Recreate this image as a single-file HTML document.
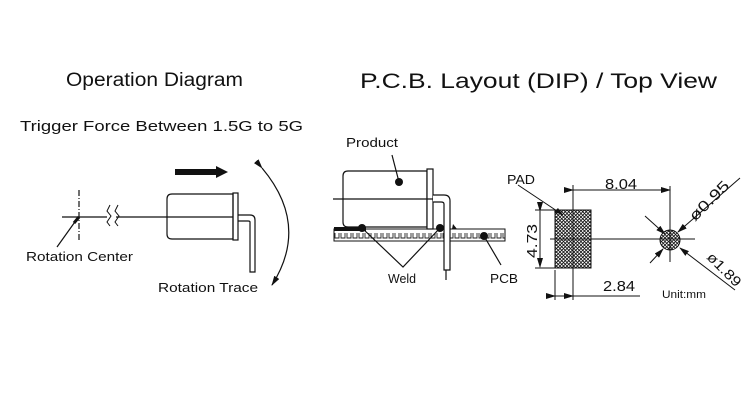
<!DOCTYPE html>
<html><head><meta charset="utf-8"><style>
html,body{margin:0;padding:0;background:#fff;width:750px;height:400px;overflow:hidden}
svg{display:block}
text{font-family:"Liberation Sans",sans-serif;fill:#111}
</style></head><body>
<svg width="750" height="400" viewBox="0 0 750 400" xmlns="http://www.w3.org/2000/svg">
<defs>
<pattern id="xh" width="3.5" height="3.5" patternUnits="userSpaceOnUse">
<rect width="3.5" height="3.5" fill="#fff"/><path d="M0,0L3.5,3.5M3.5,0L0,3.5" stroke="#111" stroke-width="0.8"/>
</pattern>
<pattern id="pcb" x="334" y="229" width="6" height="12" patternUnits="userSpaceOnUse">
<rect width="6" height="12" fill="#fff"/>
<path d="M1,4V9H5V4" fill="none" stroke="#222" stroke-width="0.9"/>
</pattern>
<marker id="ah" markerWidth="10" markerHeight="6" refX="9" refY="3" orient="auto" markerUnits="userSpaceOnUse">
<path d="M0,0L10,3L0,6z" fill="#111"/></marker>
</defs>

<!-- titles -->
<text x="66" y="86" font-size="19" textLength="177" lengthAdjust="spacingAndGlyphs">Operation Diagram</text>
<text x="360" y="88" font-size="21" textLength="357" lengthAdjust="spacingAndGlyphs">P.C.B. Layout (DIP) / Top View</text>
<text x="20" y="131" font-size="15" textLength="283" lengthAdjust="spacingAndGlyphs">Trigger Force Between 1.5G to 5G</text>

<g stroke="#111" fill="none" stroke-width="1.2">
<!-- left diagram -->
<path d="M79,190V240" stroke-dasharray="6,2,1,2"/>
<path d="M62,217H107M116,217H233"/>
<path d="M110,205l-3,6l4,5l-4,6l3,4M118,205l-3,6l4,5l-4,6l3,4" stroke-width="1"/>
<path d="M172,194H233V239H172Q167,239 167,234V199Q167,194 172,194Z"/>
<rect x="233" y="193" width="5" height="47"/>
<path d="M238,215H250Q255,215 255,220V272H250V222Q250,221 248,221H238"/>
<path d="M77,219L57,247"/>
<path d="M79,217l-5,6" stroke-width="3"/>
<path d="M262,168Q310,225 272,285" marker-start="url(#ah)" marker-end="url(#ah)"/>
</g>
<path d="M175,169H216V166L228,172L216,178V175H175Z" fill="#111"/>
<text x="26" y="261" font-size="13" textLength="107" lengthAdjust="spacingAndGlyphs">Rotation Center</text>
<text x="158" y="292" font-size="13" textLength="100" lengthAdjust="spacingAndGlyphs">Rotation Trace</text>

<!-- middle -->
<rect x="334" y="229" width="171" height="12" fill="url(#pcb)" stroke="#111" stroke-width="1"/>
<g stroke="#111" fill="none" stroke-width="1.2">
<path d="M348,171H427V227H348Q343,227 343,222V176Q343,171 348,171Z" fill="#fff"/>
<rect x="427" y="169" width="6" height="60" fill="#fff"/>
<path d="M333,199H443"/>
<path d="M433,195H444Q450,195 450,201V270H444V204Q444,202 441,202H433" fill="#fff"/>
<path d="M446,270V280"/>
<path d="M392,155L399,182M362,228L403,267L440,228M484,236L501,265"/>
</g>
<rect x="334" y="227" width="32" height="4" fill="#111"/>
<path d="M452,229l5,0l-4,-5z" fill="#111"/>
<g fill="#111"><circle cx="399" cy="182" r="4"/><circle cx="362" cy="228" r="4"/><circle cx="440" cy="228" r="4"/><circle cx="484" cy="236" r="4"/></g>
<text x="346" y="147" font-size="13" textLength="52" lengthAdjust="spacingAndGlyphs">Product</text>
<text x="388" y="283" font-size="13" textLength="28" lengthAdjust="spacingAndGlyphs">Weld</text>
<text x="490" y="283" font-size="13" textLength="28" lengthAdjust="spacingAndGlyphs">PCB</text>

<!-- right -->
<rect x="555" y="210" width="36" height="58" fill="url(#xh)" stroke="#111" stroke-width="1"/>
<circle cx="670" cy="240" r="10" fill="url(#xh)" stroke="#111" stroke-width="1"/>
<g stroke="#111" fill="none" stroke-width="1">
<path d="M573,185V300M670,186V262M550,239H695"/>
<path d="M573,190H670" marker-start="url(#ah)" marker-end="url(#ah)"/>
<path d="M535,210H555M535,268H555"/>
<path d="M540,211V267" marker-start="url(#ah)" marker-end="url(#ah)"/>
<path d="M555,270V300"/>
<path d="M555,296H573" marker-start="url(#ah)" marker-end="url(#ah)"/>
<path d="M573,296H640"/>
<path d="M645,216L665,234" marker-end="url(#ah)"/>
<path d="M740,178L678,232" marker-end="url(#ah)"/>
<path d="M650,263L663,249" marker-end="url(#ah)"/>
<path d="M735,290L680,248" marker-end="url(#ah)"/>
<path d="M518,185L563,215"/>
</g>
<path d="M563,215l-9,-3l4,-4z" fill="#111"/>
<text x="507" y="184" font-size="13" textLength="28" lengthAdjust="spacingAndGlyphs">PAD</text>
<text x="605" y="189" font-size="15" textLength="32" lengthAdjust="spacingAndGlyphs">8.04</text>
<text x="603" y="291" font-size="15" textLength="32" lengthAdjust="spacingAndGlyphs">2.84</text>
<text transform="translate(537,258) rotate(-90)" font-size="15" textLength="34" lengthAdjust="spacingAndGlyphs">4.73</text>
<text transform="translate(695,222) rotate(-45)" font-size="15" textLength="50" lengthAdjust="spacingAndGlyphs">ø0.95</text>
<text transform="translate(706,258) rotate(45)" font-size="14" textLength="42" lengthAdjust="spacingAndGlyphs">ø1.89</text>
<text x="662" y="298" font-size="11" textLength="44" lengthAdjust="spacingAndGlyphs" fill="#333">Unit:mm</text>
</svg>
</body></html>
